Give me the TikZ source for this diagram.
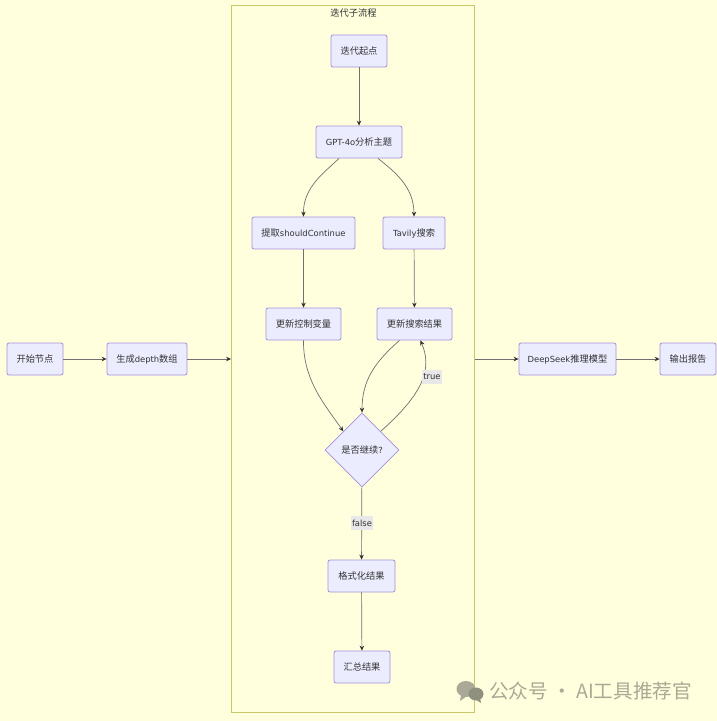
\documentclass[tikz,border=0pt]{standalone}
\usepackage{fontspec}
\setmainfont{DejaVu Sans}
\newfontfamily\zh[Scale=1.1]{Noto Sans CJK SC}
\usetikzlibrary{arrows.meta, calc, positioning, shapes.geometric}
\definecolor{paper}{HTML}{FFFFDE}
\definecolor{boxfill}{HTML}{ECECFF}
\definecolor{boxline}{HTML}{A48FDC}
\definecolor{groupline}{HTML}{C8C86A}
\definecolor{ink}{HTML}{333333}
\definecolor{labelbg}{HTML}{E8E8E8}
\definecolor{wmgrey}{HTML}{A9A995}
\tikzset{
  stepbox/.style={draw=boxline, fill=boxfill, rounded corners=2pt, line width=0.8pt, minimum height=32pt, inner sep=0pt, text=ink, font=\fontsize{8.4}{10}\selectfont},
  choice/.style={diamond, draw=boxline, fill=boxfill, line width=0.8pt, minimum width=74pt, minimum height=74pt, inner sep=0pt, text=ink, font=\fontsize{8.4}{10}\selectfont},
  flow/.style={draw=ink!70, line width=0.7pt, -{Stealth[length=5pt,width=4.5pt,color=ink]}},
  edgelabel/.style={fill=labelbg, text=ink, inner sep=1.5pt, minimum height=14pt, font=\fontsize{8.4}{10}\selectfont}
}
\begin{document}
\begin{tikzpicture}[x=1pt, y=-1pt]
\useasboundingbox (0,0) rectangle (717,721);
\fill[paper] (0,0) rectangle (717,721);

% Subgraph
\node[draw=groupline, fill=paper, line width=0.9pt, minimum width=243pt, minimum height=707pt, inner sep=0pt] (loop) at (353,358.5) {};
\node[text=ink, font=\fontsize{8.4}{10}\selectfont, inner sep=0pt] (looptitle) at (353.5,13) {\zh 迭代子流程};

% Outer nodes
\node[stepbox, minimum width=56pt] (start) at (35,359) {\zh 开始节点};
\node[stepbox, minimum width=80pt] (depth) at (147,359) {{\zh 生成}depth{\zh 数组}};
\node[stepbox, minimum width=97pt] (model) at (567.5,359) {DeepSeek{\zh 推理模型}};
\node[stepbox, minimum width=56pt] (report) at (688,359) {\zh 输出报告};

% Inner nodes
\node[stepbox, minimum width=56pt] (first) at (359,51) {\zh 迭代起点};
\node[stepbox, minimum width=86pt] (gpt) at (359,142) {GPT-4o{\zh 分析主题}};
\node[stepbox, minimum width=103pt] (extract) at (303.5,233) {{\zh 提取}shouldContinue};
\node[stepbox, minimum width=62pt] (tavily) at (414,233) {Tavily{\zh 搜索}};
\node[stepbox, minimum width=75pt] (control) at (303.5,324) {\zh 更新控制变量};
\node[stepbox, minimum width=75pt] (result) at (414.5,324) {\zh 更新搜索结果};
\node[choice] (decide) at (362,450) {{\zh 是否继续}?};
\node[stepbox, minimum width=67pt] (format) at (361.5,576) {\zh 格式化结果};
\node[stepbox, minimum width=56pt] (summary) at (362,667) {\zh 汇总结果};

% Outer flow
\draw[flow] (start) -- (depth);
\draw[flow] (depth) -- (depth -| loop.west);
\draw[flow] (model -| loop.east) -- (model);
\draw[flow] (model) -- (report);

% Inner flow
\draw[flow] (first) -- (gpt);
\draw[flow] ([xshift=-20pt]gpt.south) .. controls (325,172) and (303,187) .. (extract.north);
\draw[flow] ([xshift=19pt]gpt.south) .. controls (395,172) and (414,187) .. (tavily.north);
\draw[flow] (extract) -- (control);
\draw[flow] (tavily) -- (result);
\draw[flow] (control.south) .. controls (303,380) and (325,405) .. (decide.north west);
\draw[flow] ([xshift=-15pt]result.south) .. controls (375,362) and (362,380) .. (decide.north);
\draw[flow] (decide.north east) .. controls (425,392) and (432,368) .. ([xshift=6pt]result.south);
\draw[flow] (decide) -- (format);
\draw[flow] (format) -- (summary);

% Labels
\node[edgelabel] (yes) at (432,377) {true};
\node[edgelabel] (no) at (362,523) {false};

% Watermark
\fill[wmgrey] (466,689) ellipse (9.5pt and 8pt);
\fill[wmgrey] (461,695) -- (460,701) -- (467,696) -- cycle;
\fill[wmgrey!85!black] (476,694) ellipse (7.5pt and 6.5pt);
\fill[wmgrey!85!black] (480,698) -- (481,703) -- (475,699) -- cycle;
\node[text=wmgrey, anchor=west, inner sep=0pt, font=\fontsize{17.8}{22}\selectfont] (brand) at (489,691) {\zh 公众号 · AI工具推荐官};
\end{tikzpicture}
\end{document}
